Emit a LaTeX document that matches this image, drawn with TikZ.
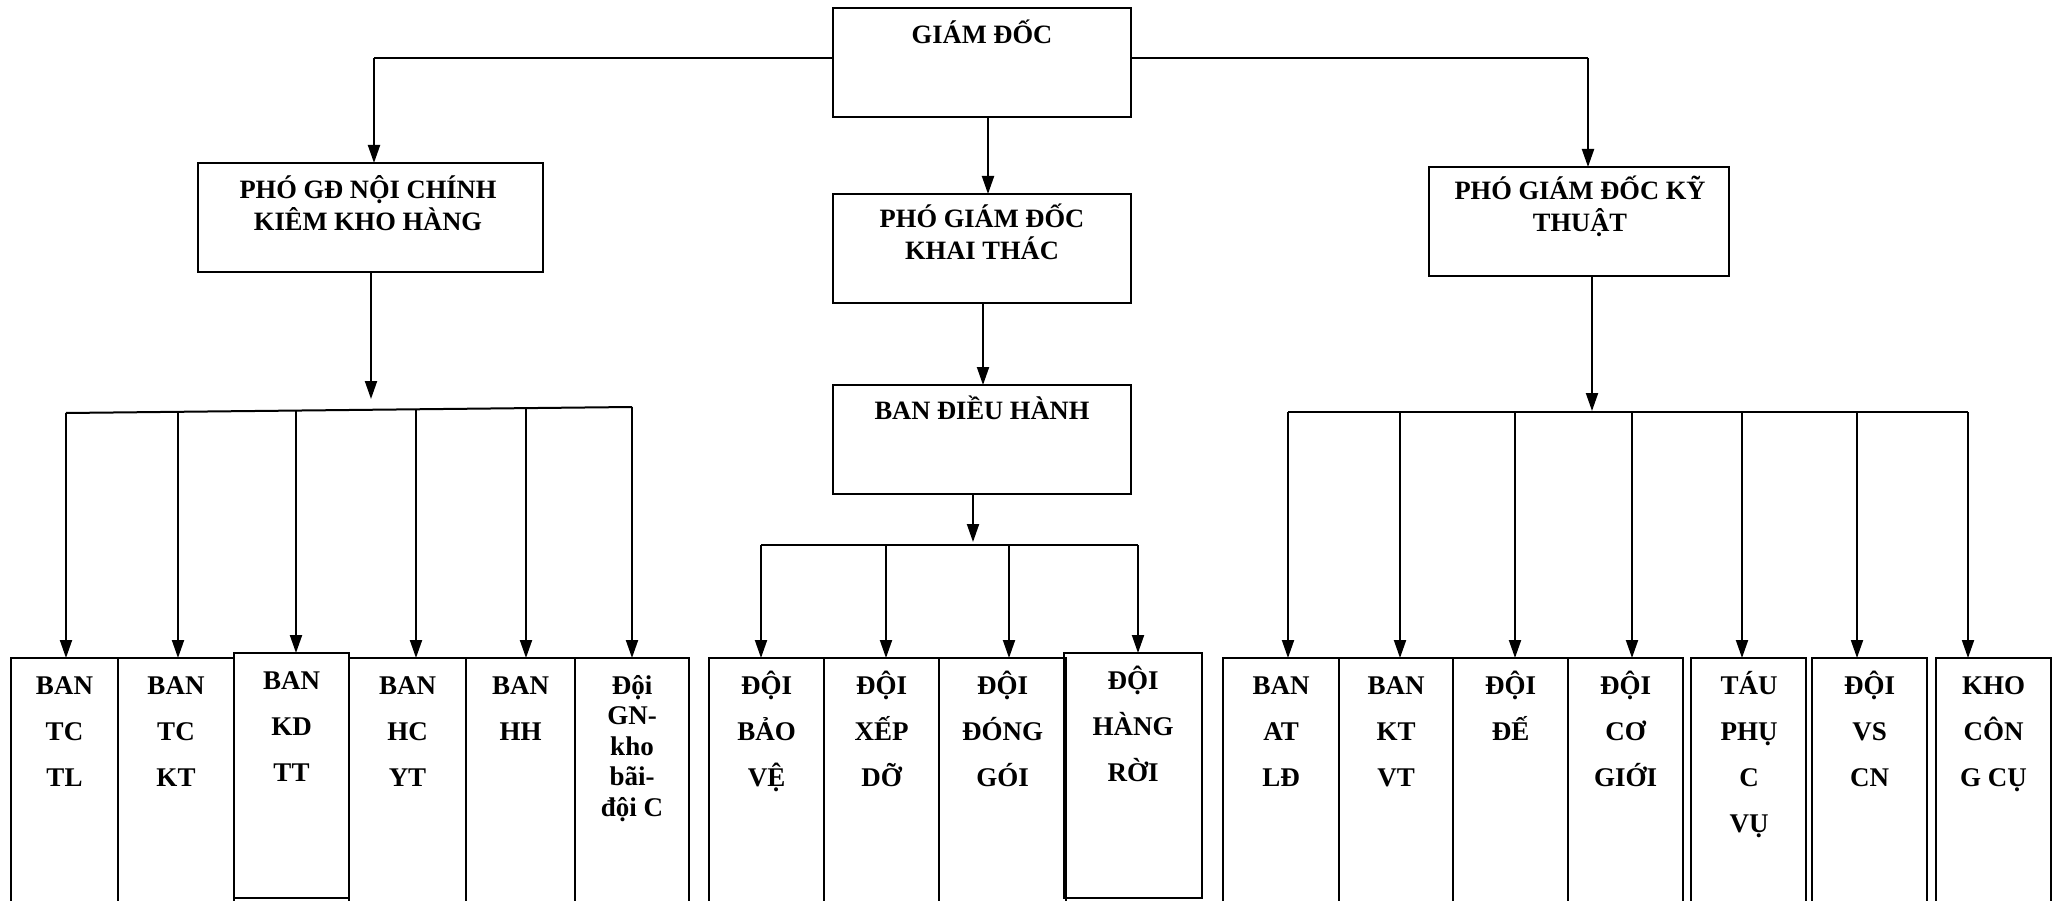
\documentclass[tikz,border=0pt]{standalone}
\usepackage{fontspec}
\setmainfont{Liberation Serif}
\usetikzlibrary{arrows.meta}
\newcommand\mybox[6]{\node[box,minimum width=#3pt,minimum height=#4pt] (#5) at (#1,#2) {};}
\begin{document}
\begin{tikzpicture}[x=1pt,y=-1pt,
  box/.style={draw, line width=2.4pt, inner sep=0pt, outer sep=0pt, anchor=north west},
  conn/.style={line width=2pt},
  arr/.style={conn, -{Triangle[length=18pt,width=12pt]}},
  up/.style={font=\bfseries\fontsize{26.5}{32}\selectfont, align=center, anchor=base, inner sep=0pt},
  lo/.style={font=\bfseries\fontsize{27}{46}\selectfont, align=center, anchor=base, inner sep=0pt},
  lotight/.style={font=\bfseries\fontsize{27}{30.5}\selectfont, align=center, anchor=base, inner sep=0pt}]
\useasboundingbox (0,0) rectangle (2058,901);
\clip (0,0) rectangle (2058,901);
% upper boxes
\mybox{833}{8}{298}{109}{gd}{}
\mybox{198}{163}{345}{109}{pnc}{}
\mybox{833}{194}{298}{109}{pkt}{}
\mybox{1429}{167}{300}{109}{pkyt}{}
\mybox{833}{385}{298}{109}{bdh}{}
\node[up] (tgd) at (982,44) {GIÁM ĐỐC};
\node[up] (tpnc) at (368,231) {PHÓ GĐ NỘI CHÍNH\\KIÊM KHO HÀNG};
\node[up] (tpkt) at (982,260) {PHÓ GIÁM ĐỐC\\KHAI THÁC};
\node[up] (tpkyt) at (1580,232) {PHÓ GIÁM ĐỐC KỸ\\THUẬT};
\node[up] (tbdh) at (982,419) {BAN ĐIỀU HÀNH};
% bottom left boxes
\mybox{11}{658}{107}{260}{b1}{}
\mybox{118}{658}{116}{260}{b2}{}
\mybox{349}{658}{117}{260}{b4}{}
\mybox{466}{658}{109}{260}{b5}{}
\mybox{575}{658}{114}{260}{b6}{}
\mybox{234}{653}{115}{245}{b3}{}
% middle
\mybox{709}{658}{115}{260}{m1}{}
\mybox{824}{658}{115}{260}{m2}{}
\mybox{939}{658}{127}{260}{m3}{}
\mybox{1064}{653}{138}{245}{m4}{}
% right
\mybox{1223}{658}{116}{260}{r1}{}
\mybox{1339}{658}{114}{260}{r2}{}
\mybox{1453}{658}{115}{260}{r3}{}
\mybox{1568}{658}{115}{260}{r4}{}
\mybox{1691}{658}{115}{260}{r5}{}
\mybox{1812}{658}{115}{260}{r6}{}
\mybox{1936}{658}{115}{260}{r7}{}
% bottom texts (anchor = baseline of last line)
\node[lo] (tb1) at (64.5,786) {BAN\\TC\\TL};
\node[lo] (tb2) at (176,786) {BAN\\TC\\KT};
\node[lo] (tb3) at (291.5,781) {BAN\\KD\\TT};
\node[lo] (tb4) at (407.5,786) {BAN\\HC\\YT};
\node[lo] (tb5) at (520.5,740) {BAN\\HH};
\node[lotight] (tb6) at (632,816) {Đội\\GN-\\kho\\bãi-\\đội C};
\node[lo] (tm1) at (766.5,786) {ĐỘI\\BẢO\\VỆ};
\node[lo] (tm2) at (881.5,786) {ĐỘI\\XẾP\\DỠ};
\node[lo] (tm3) at (1002.5,786) {ĐỘI\\ĐÓNG\\GÓI};
\node[lo] (tm4) at (1133,781) {ĐỘI\\HÀNG\\RỜI};
\node[lo] (tr1) at (1281,786) {BAN\\AT\\LĐ};
\node[lo] (tr2) at (1396,786) {BAN\\KT\\VT};
\node[lo] (tr3) at (1510.5,740) {ĐỘI\\ĐẾ};
\node[lo] (tr4) at (1625.5,786) {ĐỘI\\CƠ\\GIỚI};
\node[lo] (tr5) at (1749,832) {TÁU\\PHỤ\\C\\VỤ};
\node[lo] (tr6) at (1869.5,786) {ĐỘI\\VS\\CN};
\node[lo] (tr7) at (1993.5,786) {KHO\\CÔN\\G CỤ};
% top level connectors
\coordinate (hL) at (374,58);
\coordinate (hR) at (1588,58);
\draw[conn] (gd.west |- hL) -- (hL);
\draw[conn] (gd.east |- hR) -- (hR);
\draw[arr] (hL) -- (hL |- pnc.north);
\draw[arr] (hR) -- (hR |- pkyt.north);
\coordinate (vm) at (988,0);
\draw[arr] (gd.south -| vm) -- (pkt.north -| vm);
\coordinate (vm2) at (983,0);
\draw[arr] (pkt.south -| vm2) -- (bdh.north -| vm2);
% left group
\coordinate (lA) at (371,399);
\draw[arr] (pnc.south -| lA) -- (lA);
\coordinate (l1) at (66,413);
\coordinate (l2) at (178,411.8);
\coordinate (l3) at (296,410.6);
\coordinate (l4) at (416,409.3);
\coordinate (l5) at (526,408.1);
\coordinate (l6) at (632,407);
\draw[conn] (l1) -- (l6);
\draw[arr] (l1) -- (l1 |- b1.north);
\draw[arr] (l2) -- (l2 |- b2.north);
\draw[arr] (l3) -- (l3 |- b3.north);
\draw[arr] (l4) -- (l4 |- b4.north);
\draw[arr] (l5) -- (l5 |- b5.north);
\draw[arr] (l6) -- (l6 |- b6.north);
% middle group
\coordinate (mA) at (973,542);
\draw[arr] (bdh.south -| mA) -- (mA);
\coordinate (k1) at (761,545);
\coordinate (k2) at (886,545);
\coordinate (k3) at (1009,545);
\coordinate (k4) at (1138,545);
\draw[conn] (k1) -- (k4);
\draw[arr] (k1) -- (k1 |- m1.north);
\draw[arr] (k2) -- (k2 |- m2.north);
\draw[arr] (k3) -- (k3 |- m3.north);
\draw[arr] (k4) -- (k4 |- m4.north);
% right group
\coordinate (rA) at (1592,411);
\draw[arr] (pkyt.south -| rA) -- (rA);
\coordinate (s1) at (1288,412);
\coordinate (s2) at (1400,412);
\coordinate (s3) at (1515,412);
\coordinate (s4) at (1632,412);
\coordinate (s5) at (1742,412);
\coordinate (s6) at (1857,412);
\coordinate (s7) at (1968,412);
\draw[conn] (s1) -- (s7);
\draw[arr] (s1) -- (s1 |- r1.north);
\draw[arr] (s2) -- (s2 |- r2.north);
\draw[arr] (s3) -- (s3 |- r3.north);
\draw[arr] (s4) -- (s4 |- r4.north);
\draw[arr] (s5) -- (s5 |- r5.north);
\draw[arr] (s6) -- (s6 |- r6.north);
\draw[arr] (s7) -- (s7 |- r7.north);
\end{tikzpicture}
\end{document}
